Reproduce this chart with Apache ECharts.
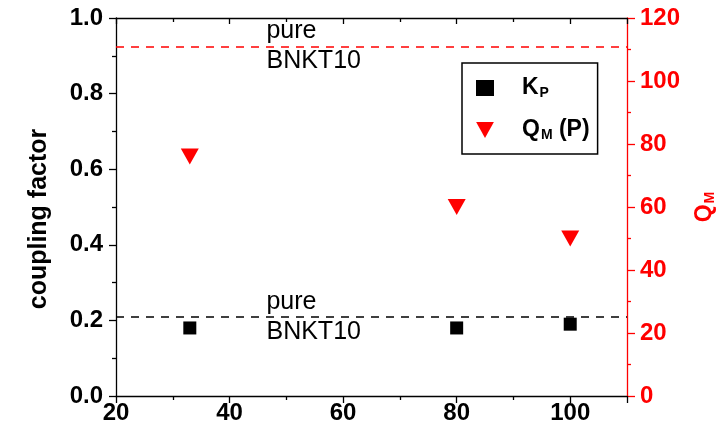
<!DOCTYPE html>
<html>
<head>
<meta charset="utf-8">
<script src="https://cdn.jsdelivr.net/npm/echarts@6/dist/echarts.min.js"></script>
<style>
html,body{margin:0;padding:0;background:#fff;}
#chart{width:721px;height:433px;}
</style>
</head>
<body>
<div id="chart"></div>
<script>
// ---- data ----
const compositions = [33, 80, 100];
const kpValues = [0.18, 0.18, 0.19];
const qmValues = [76, 60, 50];
const kpPure = 0.21;
const qmPure = 111;
const pureLabel = 'pure\nBNKT10';
const pureLabelX = 46.5;
const seriesNames = ['K_P', 'Q_M (P)'];

const FONT = 'Liberation Sans, Arial, sans-serif';
const RED = '#ff0000';
const TRI = 'path://M0,0L20,0L10,18Z';

const chart = echarts.init(document.getElementById('chart'), null, {renderer: 'canvas'});

const kpData = compositions.map((x, i) => [x, kpValues[i]]);
const qmData = compositions.map((x, i) => [x, qmValues[i]]);

const tickLabel = {fontFamily: FONT, fontWeight: 'bold', fontSize: 24, color: '#000'};

chart.setOption({
  animation: false,
  backgroundColor: '#fff',
  grid: {left: 116, right: 94, top: 18, bottom: 37, containLabel: false, outerBoundsMode: 'none'},
  legend: {
    orient: 'vertical',
    left: 462, top: 63,
    padding: [13, 8, 12, 14],
    itemGap: 18,
    itemWidth: 18, itemHeight: 16,
    borderColor: '#000', borderWidth: 1.5, borderRadius: 0,
    data: [
      {name: seriesNames[0], icon: 'rect', itemStyle: {color: '#000', opacity: 1}},
      {name: seriesNames[1], icon: TRI, itemStyle: {color: RED, opacity: 1}}
    ],
    formatter: function (n) {
      return n === seriesNames[0] ? '{f|K}{sub|P}' : '{f|Q}{sub|M}{a| (P)}';
    },
    textStyle: {
      fontFamily: FONT, fontWeight: 'bold', fontSize: 23, color: '#000',
      rich: {
        f: {fontFamily: FONT, fontWeight: 'bold', fontSize: 23, lineHeight: 26, color: '#000', padding: [0, 0, 0, 23]},
        a: {fontFamily: FONT, fontWeight: 'bold', fontSize: 23, lineHeight: 26, color: '#000'},
        sub: {fontFamily: FONT, fontWeight: 'bold', fontSize: 14, lineHeight: 16, color: '#000', padding: [10, 0, 0, 1]}
      }
    }
  },
  xAxis: [{
    type: 'value', min: 20, max: 110, interval: 20, position: 'bottom',
    axisLine: {show: true, onZero: false, lineStyle: {color: '#000', width: 1.3}},
    axisTick: {show: true, length: 7, lineStyle: {color: '#000', width: 1.3}},
    minorTick: {show: true, splitNumber: 2, length: 4, lineStyle: {color: '#000', width: 1.3}},
    splitLine: {show: false},
    axisLabel: Object.assign({margin: 5, showMaxLabel: false}, tickLabel)
  }, {
    type: 'value', min: 20, max: 110, interval: 20, position: 'top',
    axisLine: {show: true, onZero: false, lineStyle: {color: '#000', width: 1.3}},
    axisTick: {show: true, inside: true, length: 6, lineStyle: {color: '#000', width: 1.3}},
    minorTick: {show: true, splitNumber: 2, length: 4, lineStyle: {color: '#000', width: 1.3}},
    splitLine: {show: false},
    axisLabel: {show: false}
  }],
  yAxis: [{
    type: 'value', min: 0, max: 1, interval: 0.2, position: 'left',
    name: 'coupling factor', nameLocation: 'middle', nameGap: 64, nameRotate: 90,
    nameTextStyle: {fontFamily: FONT, fontWeight: 'bold', fontSize: 25, color: '#000', padding: [0, 24, 0, 0]},
    axisLine: {show: true, onZero: false, lineStyle: {color: '#000', width: 1.3}},
    axisTick: {show: true, length: 7, lineStyle: {color: '#000', width: 1.3}},
    minorTick: {show: true, splitNumber: 2, length: 4, lineStyle: {color: '#000', width: 1.3}},
    splitLine: {show: false},
    axisLabel: Object.assign({margin: 13, formatter: v => v.toFixed(1)}, tickLabel)
  }, {
    type: 'value', min: 0, max: 120, interval: 20, position: 'right',
    name: 'Q{sub|M}', nameLocation: 'middle', nameGap: 66, nameRotate: 90,
    nameTextStyle: {
      fontFamily: FONT, fontWeight: 'bold', fontSize: 23, color: RED,
      rich: {sub: {fontFamily: FONT, fontWeight: 'bold', fontSize: 14, lineHeight: 16, color: RED, padding: [12, 0, 0, 1]}}
    },
    axisLine: {show: true, onZero: false, lineStyle: {color: RED, width: 1.3}},
    axisTick: {show: true, length: 8, lineStyle: {color: RED, width: 1.3}},
    minorTick: {show: true, splitNumber: 2, length: 4, lineStyle: {color: RED, width: 1.3}},
    splitLine: {show: false},
    axisLabel: Object.assign({}, tickLabel, {margin: 13, color: RED})
  }],
  series: [{
    name: seriesNames[0], type: 'scatter', xAxisIndex: 0, yAxisIndex: 0,
    data: kpData, symbol: 'rect', symbolSize: 13,
    itemStyle: {color: '#000', opacity: 1},
    markLine: {
      silent: true, symbol: 'none',
      lineStyle: {color: '#000', type: [8, 7], width: 1.5},
      label: {show: false},
      data: [{yAxis: kpPure}]
    },
    markPoint: {
      silent: true, symbol: 'circle', symbolSize: 0,
      label: {show: true, position: 'right', distance: 0, formatter: pureLabel,
        fontFamily: FONT, fontSize: 25, color: '#000', lineHeight: 30, align: 'left'},
      data: [{coord: [pureLabelX, kpPure]}]
    }
  }, {
    name: seriesNames[1], type: 'scatter', xAxisIndex: 0, yAxisIndex: 1,
    data: qmData, symbol: TRI, symbolSize: [18, 16], symbolKeepAspect: false,
    itemStyle: {color: RED, opacity: 1},
    markLine: {
      silent: true, symbol: 'none',
      lineStyle: {color: RED, type: [8, 7], width: 1.5},
      label: {show: false},
      data: [{yAxis: qmPure}]
    },
    markPoint: {
      silent: true, symbol: 'circle', symbolSize: 0,
      label: {show: true, position: 'right', distance: 0, formatter: pureLabel,
        fontFamily: FONT, fontSize: 25, color: '#000', lineHeight: 30, align: 'left'},
      data: [{coord: [pureLabelX, qmPure]}]
    }
  }]
});
</script>
</body>
</html>
